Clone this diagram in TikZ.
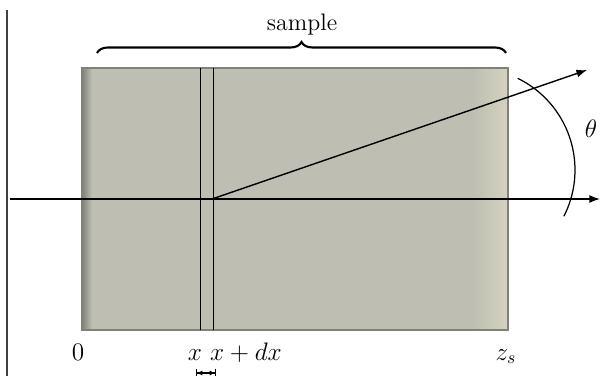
\documentclass[tikz,border=0pt]{standalone}
\usepackage{amsmath, amssymb}
\usepackage{tikz}
\usetikzlibrary{arrows.meta, decorations.pathreplacing}
\definecolor{samplefill}{RGB}{190,191,178}
\definecolor{sampleedge}{RGB}{128,130,120}
\definecolor{samplelight}{RGB}{212,210,190}

\begin{document}
\begin{tikzpicture}[x=0.02cm, y=-0.02cm, font=\fontsize{13.6}{16}\selectfont,
            axis/.style={line width=0.8pt, -{Latex[length=6pt,width=4.5pt]}},
            slab/.style={line width=0.45pt},
            lbl/.style={anchor=base, inner sep=0pt}]
            \useasboundingbox (0,0) rectangle (600,376);
            %sample block
            \fill[samplefill] (82,68) rectangle (508,330);
            \shade[left color=sampleedge, right color=samplefill] (82,68) rectangle (92,330);
            \shade[left color=samplefill, right color=samplelight] (472,68) rectangle (507,330);
            \draw[sampleedge, line width=0.6pt] (82,68) rectangle (508,330);
            % left boundary
            \draw[black!75, line width=0.6pt] (7,10) -- (7,376);
            % slice x .. x+dx
            \coordinate (xtop) at (200,68);   \coordinate (xbot) at (200,330);
            \coordinate (dxtop) at (213,68);  \coordinate (dxbot) at (213,330);
            \draw[slab] (xtop) -- (xbot) (dxtop) -- (dxbot);
            % axis and ray
            \coordinate (start) at (10,199);
            \coordinate (end) at (600,199);
            \coordinate (o) at (212,199);
            \coordinate (ray) at (587,70);
            \draw[axis] (start) -- (end);
            \draw[axis] (o) -- (ray);
            % angle
            \coordinate (c) at (473,170);
            \draw[line width=0.7pt] (c) ++(-64:102) arc (-64:27:102);
            \node (theta) at (591,129) {$\theta$};
            % brace
            \coordinate (bl) at (97,53);
            \coordinate (br) at (506,53);
            \draw[decorate, decoration={brace, amplitude=0.22cm}, line width=1.2pt] (bl) -- (br);
            \node[lbl] (sample) at (302,30) {sample};
            % labels
            \node[lbl] (zero) at (78,360) {$0$};
            \node[lbl] (x) at (195,360) {$x$};
            \node[lbl] (xdx) at (246,360) {$x+dx$};
            \node[lbl] (zs) at (506,360) {$z_s$};
            \coordinate (dl) at (196,373);
            \coordinate (dr) at (216,373);
            \draw[line width=0.6pt, {Bar[width=5pt]Latex[length=3pt,width=3pt]}-{Latex[length=3pt,width=3pt]Bar[width=5pt]}] (dl) -- (dr);
        \end{tikzpicture}
\end{document}
